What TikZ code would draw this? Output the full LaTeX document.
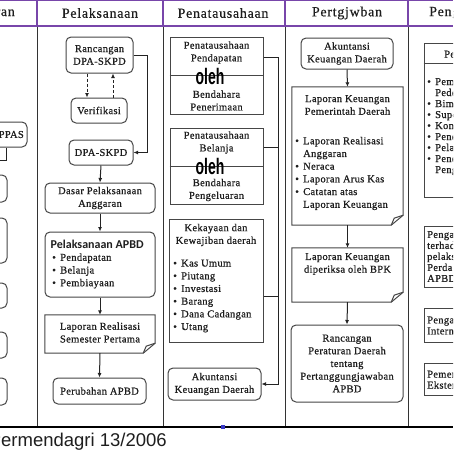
\documentclass[tikz,border=0pt]{standalone}
\usepackage{fontspec}
\usepackage{graphicx}
\setmainfont{Liberation Serif}[LetterSpace=3, FakeBold=0.7]
\newfontfamily\hdfont{Liberation Serif}[LetterSpace=5, FakeBold=0.4]
\newfontfamily\apbdfont{Carlito}
\newfontfamily\capfont{Liberation Sans}
\usetikzlibrary{arrows.meta,calc}
\definecolor{purp}{RGB}{120,70,170}
\definecolor{bline}{RGB}{70,70,70}
\definecolor{cline}{RGB}{35,35,35}
\definecolor{txt}{RGB}{30,30,30}
\newcommand{\mybul}{\makebox[8pt][l]{•}}
\newcommand{\docshape}[1]{%
  \draw[boxline] (#1.north west) -- (#1.north east) -- ([shift={(0pt,10pt)}]#1.south east)
    -- ([shift={(-12pt,0pt)}]#1.south east) -- (#1.south west) -- cycle;
  \draw[boxline] ([shift={(0pt,10pt)}]#1.south east) -- ([shift={(-9pt,7pt)}]#1.south east)
    -- ([shift={(-12pt,0pt)}]#1.south east);}
\begin{document}
\begin{tikzpicture}[x=1pt,y=-1pt,
  boxline/.style={draw=bline, line width=1pt},
  body/.style={font=\fontsize{10.5}{12.7}\selectfont, text=txt},
  bodyr/.style={font=\fontsize{10.5}{11}\selectfont, text=txt},
  box/.style={boxline, inner sep=0pt, body, align=center},
  rbox/.style={box, rounded corners=5pt},
  dbox/.style={inner sep=0pt},
  plain/.style={inner sep=0pt, body, align=center},
  lst/.style={inner sep=0pt, body, align=left, anchor=west},
  lstr/.style={inner sep=0pt, bodyr, align=left, anchor=west},
  hdr/.style={font=\hdfont\fontsize{14}{16}\selectfont, text=txt, inner sep=0pt},
  oleh/.style={font=\capfont\bfseries\fontsize{14}{14}\selectfont, text=black, inner sep=0pt},
  arr/.style={-{Latex[length=4.5pt,width=4pt]}, line width=1pt, draw=cline},
  conn/.style={line width=1pt, draw=cline},
  panel/.style={draw=black!80, line width=1pt},
  hline/.style={draw=purp, line width=1.2pt}]
\useasboundingbox (0,0) rectangle (453,453);
\fill[white] (0,0) rectangle (453,453);
\begin{scope}
\clip (0,0) rectangle (453,453);
% frame
\foreach \xx in {37,163,285,408} {
  \draw[panel] (\xx,26) -- (\xx,427);
  \draw[hline] (\xx,0) -- (\xx,26);
}
\draw[hline, line width=1.6pt] (0,26) -- (453,26);
\draw[hline] (0,0.8) -- (453,0.8);
\draw[black, line width=1.8pt] (0,427) -- (453,427);
\fill[blue!55!gray] (221,424.5) rectangle (225,428.5);
% headers
\node[hdr, anchor=east] (h0) at (15,13) {Penganggaran};
\node[hdr] (h1) at (100,13) {Pelaksanaan};
\node[hdr] (h2) at (223,13) {Penatausahaan};
\node[hdr] (h3) at (347,13) {Pertgjwban};
\node[hdr, anchor=west] (h4) at (429,13) {Pengawasan};
% left column
\node[rbox, minimum width=67pt, minimum height=25pt] (ppas) at (-6.5,134.5) {};
\node[plain, anchor=east] (ppasT) at (24,134.5) {KUA-PPAS};
\coordinate (px) at (6,160);
\coordinate (pq) at (-5,160);
\draw[conn] (ppas.south -| px) -- (px) -- (pq);
\node[rbox, minimum width=67pt, minimum height=27pt] (l1) at (-26.5,188.5) {};
\node[rbox, minimum width=67pt, minimum height=45pt] (l2) at (-26.5,240.5) {};
\node[rbox, minimum width=67pt, minimum height=25pt] (l3) at (-26.5,295.5) {};
\node[rbox, minimum width=67pt, minimum height=26pt] (l4) at (-26.5,345) {};
\node[rbox, minimum width=67pt, minimum height=27pt] (l5) at (-26.5,391.5) {};
% Pelaksanaan
\node[rbox, minimum width=67pt, minimum height=36pt] (ranc) at (99.5,55) {Rancangan\\DPA-SKPD};
\node[rbox, minimum width=56pt, minimum height=25pt] (verif) at (99,110.5) {Verifikasi};
\node[rbox, minimum width=64pt, minimum height=25pt] (dpa) at (101,152.5) {DPA-SKPD};
\coordinate (d1) at (87,0);
\coordinate (d2) at (113,0);
\draw[arr, dashed, dash pattern=on 3pt off 2pt] (ranc.south -| d1) -- (verif.north -| d1);
\draw[arr, dashed, dash pattern=on 3pt off 2pt] (verif.north -| d2) -- (ranc.south -| d2);
\draw[arr] (ranc.east) -- ++(14,0) |- (dpa.east);
\node[rbox, minimum width=110pt, minimum height=30pt] (dasar) at (100,198) {Dasar Pelaksanaan\\Anggaran};
\draw[arr] (dpa.south) -- (dasar.north);
\node[rbox, minimum width=110pt, minimum height=65pt] (apbd) at (100,264.5) {};
\node[inner sep=0pt, anchor=west, font=\apbdfont\bfseries\fontsize{12}{13}\selectfont, text=txt] (apbdT) at (50.5,244) {Pelaksanaan APBD};
\node[lst] (apbdL) at (52,271) {\mybul Pendapatan\\\mybul Belanja\\\mybul Pembiayaan};
\draw[arr] (dasar.south) -- (apbd.north);
\node[dbox, minimum width=110pt, minimum height=38pt] (lapreal) at (100,334) {};
\docshape{lapreal}
\node[plain] (laprealT) at (100,332.5) {Laporan Realisasi\\Semester Pertama};
\draw[arr] (apbd.south) -- (lapreal.north);
\node[rbox, minimum width=93pt, minimum height=26pt] (perub) at (99.5,391) {Perubahan APBD};
\draw[arr] (lapreal.south) -- (perub.north);
% Penatausahaan
\node[box, minimum width=93pt, minimum height=77pt] (pend) at (216.5,75.5) {};
\draw[boxline] (pend.west) -- (pend.east);
\node[plain] (pendT) at (216.5,52.5) {Penatausahaan\\Pendapatan};
\node[plain] (pendB) at (216.5,100.5) {Bendahara\\Penerimaan};
\node[oleh] (oleh1) at (210,76) {\scalebox{1.0}[1.6]{oleh}};
\node[box, minimum width=93pt, minimum height=76pt] (bel) at (216.5,166) {};
\draw[boxline] (bel.west) -- (bel.east);
\node[plain] (belT) at (216.5,142.5) {Penatausahaan\\Belanja};
\node[plain] (belB) at (216.5,190) {Bendahara\\Pengeluaran};
\node[oleh] (oleh2) at (210,166) {\scalebox{1.0}[1.6]{oleh}};
\node[box, minimum width=94pt, minimum height=123pt] (kek) at (216,280.5) {};
\node[plain] (kekT) at (216,235) {Kekayaan dan\\Kewajiban daerah};
\node[lst] (kekL) at (173,296) {\mybul Kas Umum\\\mybul Piutang\\\mybul Investasi\\\mybul Barang\\\mybul Dana Cadangan\\\mybul Utang};
\node[rbox, minimum width=93pt, minimum height=32pt] (akt1) at (214.5,384) {Akuntansi\\Keuangan Daerah};
\coordinate (t1) at (278,57);
\coordinate (t2) at (278,147);
\coordinate (t3) at (278,296);
\draw[conn] (pend.east |- t1) -- (t1);
\draw[conn] (bel.east |- t2) -- (t2);
\draw[conn] (kek.east |- t3) -- (t3);
\draw[arr] (t1) |- (akt1.east);
% Pertgjwban
\node[rbox, minimum width=92pt, minimum height=31pt] (akt2) at (347,53.5) {Akuntansi\\Keuangan Daerah};
\node[dbox, minimum width=111pt, minimum height=138pt] (lkpd) at (347.5,156) {};
\docshape{lkpd}
\node[plain] (lkpdT) at (347.5,105) {Laporan Keuangan\\Pemerintah Daerah};
\node[lst] (lkpdL) at (295,173.5) {\mybul Laporan Realisasi\\\hspace*{8pt}Anggaran\\\mybul Neraca\\\mybul Laporan Arus Kas\\\mybul Catatan atas\\\hspace*{8pt}Laporan Keuangan};
\draw[arr] (akt2.south) -- (lkpd.north);
\node[dbox, minimum width=111pt, minimum height=54pt] (bpk) at (347.5,275) {};
\docshape{bpk}
\node[plain] (bpkT) at (347.5,264) {Laporan Keuangan\\diperiksa oleh BPK};
\draw[arr] (lkpd.south) -- (bpk.north);
\node[rbox, minimum width=112pt, minimum height=77pt] (raperda) at (347,363.5) {Rancangan\\Peraturan Daerah\\tentang\\Pertanggungjawaban\\APBD};
\draw[arr] (bpk.south) -- (raperda.north);
% Pengawasan
\node[box, minimum width=56pt, minimum height=154pt] (pemb) at (452,120) {};
\draw[boxline] ([shift={(0pt,-21pt)}]pemb.north west) -- ([shift={(0pt,-21pt)}]pemb.north east);
\node[inner sep=0pt, anchor=west, bodyr] (pembT) at (444,54) {Pembinaan};
\node[lstr] (pembL) at (427,126.5) {\mybul Pemberian\\\hspace*{8pt}Pedoman\\\mybul Bimbingan\\\mybul Supervisi\\\mybul Konsultasi\\\mybul Pendidikan\\\mybul Pelatihan\\\mybul Penelitian dan\\\hspace*{8pt}Pengembangan};
\node[box, minimum width=56pt, minimum height=61pt] (pengw) at (452,256.5) {};
\node[lstr] (pengwT) at (427,256.5) {Pengawasan\\terhadap\\pelaksanaan\\Perda\\APBD};
\node[box, minimum width=56pt, minimum height=34pt] (intern) at (452,325) {};
\node[lstr] (internT) at (427,325.5) {Pengawasan\\Intern};
\node[box, minimum width=56pt, minimum height=32pt] (ekst) at (452,379) {};
\node[lstr] (ekstT) at (427,379.5) {Pemeriksaan\\Ekstern};
% caption
\node[inner sep=0pt, anchor=base east, font=\capfont\fontsize{18.5}{20}\selectfont, text=txt] (cap) at (167,446) {Permendagri 13/2006};
\end{scope}
\end{tikzpicture}
\end{document}
